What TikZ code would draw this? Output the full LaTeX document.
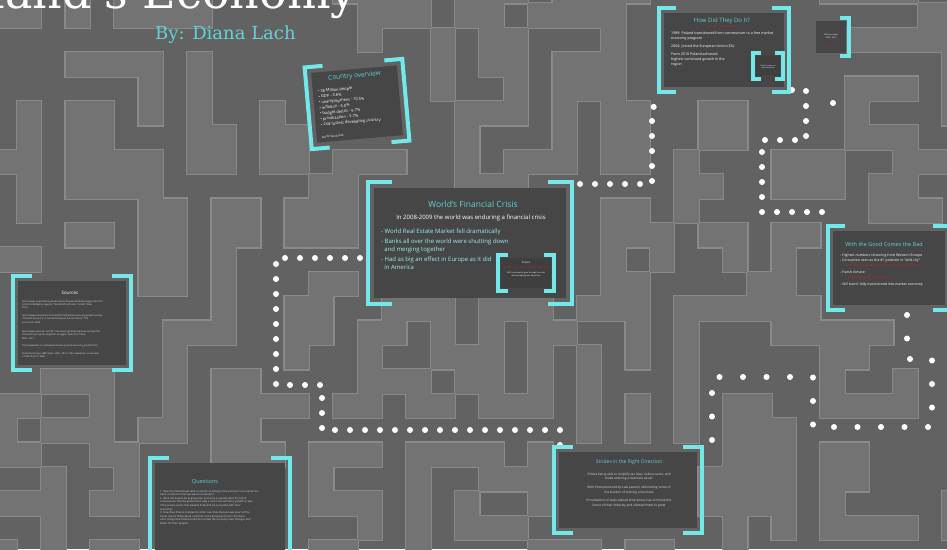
\documentclass[tikz,border=0pt]{standalone}
\usepackage{fontspec}
\setmainfont{Open Sans}
\newfontfamily\serifttl{DejaVu Serif}
\usetikzlibrary{calc}
\definecolor{corr}{HTML}{626262}
\definecolor{blk}{HTML}{737373}
\definecolor{edgec}{HTML}{898989}
\definecolor{panelc}{HTML}{464646}
\definecolor{cyb}{HTML}{74E7E9}
\definecolor{cyt}{HTML}{62D2D6}
\definecolor{redt}{HTML}{C0282A}
\newcommand\fs[2]{\fontsize{#1}{#2}\selectfont}
\newcommand\mz[1]{%
 \foreach \a/\b/\c/\d in {#1}{\draw[edgec, line width=2.4pt] ({16.8+24.35*\a},{76.5+24.4*\b}) rectangle ({16.8+24.35*(\c+1)},{76.5+24.4*(\d+1)});}
 \foreach \a/\b/\c/\d in {#1}{\fill[blk] ({16.8+24.35*\a},{76.5+24.4*\b}) rectangle ({16.8+24.35*(\c+1)},{76.5+24.4*(\d+1)});}}
\newcommand\brackets[3]{%
 \draw[brk] ($(#1.north west)+(#3,-#2)$) -- ($(#1.north west)+(-#2,-#2)$) -- ($(#1.south west)+(-#2,#2)$) -- ($(#1.south west)+(#3,#2)$);
 \draw[brk] ($(#1.north east)+(-#3,-#2)$) -- ($(#1.north east)+(#2,-#2)$) -- ($(#1.south east)+(#2,#2)$) -- ($(#1.south east)+(-#3,#2)$);}
\tikzset{
 panel/.style={fill=panelc, inner sep=0pt},
 brk/.style={draw=cyb, line width=4pt},
 dots/.style={draw=white, line width=6pt, line cap=round, dash pattern=on 0pt off 15pt},
 ttl/.style={text=cyt, font=\fs{7.5}{9}},
 body/.style={text=white, font=\fs{4}{5.5}, align=left, inner sep=0pt},
}
\begin{document}
\begin{tikzpicture}[x=1pt,y=-1pt]
\useasboundingbox (0,0) rectangle (947,549);
\clip (0,0) rectangle (947,549);
\fill[corr] (0,0) rectangle (947,549);
% maze blocks (cell ranges i0/j0/i1/j1)
\mz{-1/-4/0/-4, 2/-4/2/-4, 4/-4/7/-4, 13/-4/16/-4, 18/-4/20/-4, 22/-4/25/-4, 33/-4/36/-4,
 -1/-3/0/-3, 2/-3/2/-3, 4/-3/7/-3, 14/-3/16/-3, 18/-3/19/-3, 21/-3/24/-3, 37/-3/38/-3,
 14/-2/14/-2, 17/-2/17/-2, 19/-2/20/-2, 24/-2/24/-2, 34/-2/38/-2,
 2/-1/5/-1, 7/-1/7/-1, 17/-1/17/-1, 19/-1/20/-1, 22/-1/24/-1, 38/-1/38/-1,
 5/0/5/0, 7/0/7/0, 17/0/17/0, 20/0/20/0, 22/0/24/0, 34/0/36/0, 38/0/38/0,
 0/1/0/1, 2/1/3/1, 5/1/5/1, 7/1/7/1, 10/1/10/1, 18/1/20/1, 22/1/22/1, 24/1/25/1, 28/1/29/1, 34/1/34/1, 38/1/38/1,
 0/2/0/2, 2/2/3/2, 7/2/8/2, 10/2/11/2, 18/2/18/2, 22/2/22/2, 24/2/25/2, 28/2/29/2, 34/2/36/2,
 -1/3/0/3, 2/3/5/3, 7/3/8/3, 10/3/11/3, 13/3/15/3, 18/3/18/3, 20/3/22/3, 24/3/25/3, 27/3/27/3, 31/3/33/3, 36/3/38/3,
 0/4/0/4, 2/4/5/4, 12/4/13/4, 18/4/20/4, 27/4/28/4, 31/4/33/4, 35/4/36/4,
 0/5/0/5, 5/5/6/5, 8/5/9/5, 11/5/13/5, 24/5/25/5, 27/5/27/5, 35/5/37/5,
 2/6/3/6, 5/6/6/6, 8/6/9/6, 11/6/13/6, 24/6/26/6, 28/6/29/6, 31/6/32/6,
 -1/7/0/7, 5/7/6/7, 8/7/8/7, 24/7/24/7, 26/7/26/7, 29/7/29/7, 31/7/31/7,
 5/8/6/8, 8/8/8/8, 12/8/13/8, 24/8/25/8, 30/8/31/8,
 8/9/8/9, 11/9/12/9, 15/9/17/9, 19/9/21/9, 23/9/25/9, 27/9/32/9,
 6/10/8/10, 11/10/12/10, 14/10/15/10, 17/10/17/10, 19/10/19/10, 21/10/22/10, 25/10/25/10, 27/10/27/10, 31/10/35/10,
 6/11/6/11, 11/11/11/11, 14/11/14/11, 17/11/19/11, 21/11/21/11, 23/11/23/11, 25/11/25/11, 27/11/27/11, 33/11/34/11,
 1/12/3/12, 6/12/6/12, 8/12/9/12, 14/12/16/12, 18/12/19/12, 21/12/21/12, 23/12/23/12, 27/12/27/12, 33/12/33/12, 36/12/36/12,
 -1/13/0/13, 3/13/3/13, 6/13/6/13, 8/13/11/13, 13/13/14/13, 16/13/17/13, 19/13/21/13, 23/13/23/13, 25/13/25/13, 27/13/27/13, 29/13/30/13, 33/13/36/13,
 -1/14/-1/14, 1/14/3/14, 5/14/6/14, 8/14/9/14, 23/14/23/14, 25/14/25/14, 27/14/27/14, 29/14/31/14,
 -1/15/0/15, 3/15/4/15, 8/15/10/15, 12/15/14/15, 16/15/19/15, 21/15/21/15, 29/15/31/15, 33/15/34/15,
 1/16/1/16, 4/16/4/16, 12/16/12/16, 16/16/16/16, 19/16/21/16, 28/16/31/16, 33/16/34/16,
 -1/17/1/17, 3/17/4/17, 12/17/14/17, 16/17/16/17, 18/17/18/17, 21/17/21/17, 28/17/31/17, 33/17/33/17, 38/17/38/17,
 1/18/1/18, 14/18/14/18, 16/18/16/18, 18/18/20/18, 29/18/29/18, 31/18/31/18, 33/18/36/18, 38/18/38/18,
 -1/19/-1/19, 1/19/1/19, 3/19/4/19, 12/19/13/19, 16/19/16/19, 21/19/23/19, 25/19/26/19, 29/19/29/19}
% title
\node[anchor=base east, text=white, font=\serifttl\fs{46}{50}, inner sep=0pt] (title) at (357,8) {Poland's Economy};
\node[anchor=west, text=cyt, font=\serifttl\fs{18}{20}, inner sep=0pt] (by) at (155,35) {By: Diana Lach};
% dotted paths
\coordinate (p1a) at (580,184); \coordinate (p1b) at (652,184); \coordinate (p1c) at (652,108); \coordinate (p1d) at (664,100);
\draw[dots] (p1a) -- (p1b) -- (p1c) -- (p1d);
\coordinate (p3a) at (907,315); \coordinate (p3b) at (907,359); \coordinate (p3c) at (932,359); \coordinate (p3d) at (932,427);
\coordinate (p3e) at (813,427); \coordinate (p3f) at (813,377); \coordinate (p3g) at (712,377); \coordinate (p3h) at (712,448);
\draw[dots, dash pattern=on 0pt off 23.5pt] (p3a) -- (p3b) -- (p3c) -- (p3d) -- (p3e) -- (p3f) -- (p3g) -- (p3h);
\coordinate (p4a) at (360,258); \coordinate (p4b) at (276,258); \coordinate (p4c) at (276,385); \coordinate (p4d) at (322,385);
\coordinate (p4e) at (322,430); \coordinate (p4f) at (560,430); \coordinate (p4g) at (560,445);
\draw[dots] (p4a) -- (p4b) -- (p4c) -- (p4d) -- (p4e) -- (p4f) -- (p4g);
\coordinate (p2a) at (792,90); \coordinate (p2b) at (806,90); \coordinate (p2c) at (806,140); \coordinate (p2d) at (762,140);
\coordinate (p2e) at (762,212); \coordinate (p2f) at (836,212);
\draw[dots] (p2a) -- (p2b) -- (p2c) -- (p2d) -- (p2e) -- (p2f);
\coordinate (p2x) at (833,103);
\fill[white] (p2x) circle (3pt);
% Country overview (rotated)
\begin{scope}[shift={(357,104)}, rotate=5, transform shape]
\node[panel, minimum width=86pt, minimum height=70pt] (co) at (0,0) {};
\draw[brk] (-31,-41) -- (-49,-41) -- (-49,41) -- (-31,41);
\draw[brk] (31,-41) -- (49,-41) -- (49,41) -- (31,41);
\node[ttl, font=\fs{6.5}{8}] (cot) at (0,-28) {Country overview};
\node[body, anchor=north west, font=\fs{4}{5.6}] (cob) at (-38,-18) {• 38 Million people\\ • GDP - 3.8\%\\ • unemployment - 10.5\%\\ • inflation - 4.0\%\\ • budget deficit - 5.7\%\\ • privatization - 5.7\%\\ • 2nd fastest developing country};
\node[body, anchor=west, font=\fs{3}{4}] (cos) at (-38,30) {world fact book};
\end{scope}
% Financial crisis
\node[panel, minimum width=192pt, minimum height=110pt] (fc) at (470,243) {};
\brackets{fc}{6}{18}
\node[ttl, font=\fs{8.5}{10}] (fct) at (473,204) {World's Financial Crisis};
\node[body, font=\fs{6}{7}] (fci) at (471,218) {In 2008-2009 the world was enduring a financial crisis};
\node[body, anchor=north west, text=cyb!70!white, font=\fs{6}{8.5}] (fcb) at (381,229) {- World Real Estate Market fell dramatically\\[1pt] - Banks all over the world were shutting down\\ \ \ and merging together\\[1pt] - Had as big an effect in Europe as it did\\ \ \ in America};
\node[panel, fill=panelc!90!black, minimum width=50pt, minimum height=30pt] (fcs) at (526,273) {};
\brackets{fcs}{3}{7}
\node[body, font=\fs{2.5}{3}] at (526,263) {Poland};
\node[body, text=redt, font=\fs{2.5}{3}] at (526,268) {was the only country to avoid recession};
\node[body, font=\fs{2}{3}, align=center] at (526,274) {GDP continued to grow through the crisis\\ and unemployment stayed low};
% How did they do it
\node[panel, minimum width=120pt, minimum height=74pt] (hd) at (724,50) {};
\brackets{hd}{5}{12}
\node[ttl, font=\fs{6}{7}] (hdt) at (722,21) {How Did They Do It?};
\node[body, text=redt, font=\fs{3}{4}] at (722,27) {(economic reforms)};
\node[body, anchor=north west, font=\fs{3.6}{5}] (hdb) at (671,32) {1989: Poland transitioned from communism to a free market\\ economy program\\[3pt] 2004: Joined the European Union (EU)\\[3pt] From 2010 Poland achieved\\ highest continued growth in the\\ region};
\node[panel, fill=panelc!90!black, minimum width=24pt, minimum height=20pt] (hds) at (768,66) {};
\brackets{hds}{3}{5}
\node[body, text=redt, font=\fs{2}{3}] at (768,60) {Fun Fact};
\node[body, font=\fs{1.8}{2.5}, align=center] at (768,67) {only EU country to\\ avoid recession};
% small box top right
\node[panel, minimum width=30pt, minimum height=32pt] (sm) at (831,37) {};
\draw[brk] ($(sm.north east)+(-6,-3)$) -- ($(sm.north east)+(3,-3)$) -- ($(sm.south east)+(3,3)$) -- ($(sm.south east)+(-6,3)$);
\node[body, text=redt, font=\fs{2}{3}] at (831,47) {growth rate};
\node[body, font=\fs{2}{3}, align=center] at (831,36) {GDP per capita\\ 2004 - 2012};
% With the good comes the bad
\node[panel, minimum width=112pt, minimum height=74pt] (gb) at (889,268) {};
\brackets{gb}{5}{12}
\node[ttl, font=\fs{5.5}{7}] (gbt) at (884,244) {With the Good Comes the Bad};
\node[body, anchor=north west, font=\fs{3.5}{5}] (gbb) at (840,254) {- Highest numbers returning from Western Europe\\ - Corruption seen as the \#1 problem in "wild city"\\ \textcolor{redt}{\ \ \ \ \ \ \ Inefficient use of public funds and resources}\\[2pt] - Harsh climate\\ \textcolor{redt}{\ \ \ \ \ \ \ \ \ High taxes for businesses}\\[2pt] - Still hasn't fully transitioned into market economy};
% Sources
\node[panel, minimum width=108pt, minimum height=84pt] (src) at (72,323) {};
\brackets{src}{5}{14}
\node[body, font=\fs{4.5}{5}] (srct) at (70,293) {Sources};
\node[body, anchor=north west, font=\fs{2.4}{3.4}, text=white!85!black] (srcb) at (22,300) {http://www.cia.gov/library/publications/the-world-factbook/geos/pl.html\\ Central Intelligence Agency. The World Factbook: Poland. Web.\\ 2013.\\[4pt] http://www.economist.com/node/2010/poland-economy-growth-europe\\ "Poland's Economy: A Central European Success Story." The\\ Economist. Web.\\[6pt] http://www.nytimes.com/2011/business/global/poland-economy.html\\ Poland thrives while neighbors struggle. New York Times.\\ Web. 2011.\\[4pt] http://www.bbc.co.uk/news/business-poland-economy-growth.html\\[4pt] Poland economy. BBC News. Web. 2012. http://www.bbc.co.uk/news\\ 12 March 2013. Web.};
% Questions
\node[panel, minimum width=130pt, minimum height=90pt] (qs) at (220,508) {};
\brackets{qs}{5}{14}
\node[ttl, font=\fs{5.5}{7}] (qst) at (205,482) {Questions};
\node[body, anchor=north west, font=\fs{2.6}{3.6}, text=white!85!black] (qsb) at (160,490) {1. How has Poland been able to remain so strong in the economic crisis when the\\ other countries in Europe were in recession?\\ 2. What did Poland do to grow their economy so quickly after the fall of\\ communism? Did the government play a role in the economic growth or was\\ it the private sector that allowed Poland to be successful with their\\ economy? \\ 3. How does Poland compare to other countries that also were part of the\\ Soviet Union? What about countries in the European Union? Are there\\ other things that Poland could do to make the economy even stronger and\\ better for their people?};
% Strides
\node[panel, minimum width=138pt, minimum height=76pt] (st) at (628,490) {};
\brackets{st}{5}{14}
\node[ttl, font=\fs{5}{6}] (stt) at (629,462) {Strides in the Right Direction};
\node[body, align=center, font=\fs{3.2}{4.6}, text=white!85!black] (stb) at (629,490) {Polska being able to simplify tax laws, reduce taxes, and\\ make entering a business easier\\[4pt] With Entrepreneurship Law passed, eliminating some of\\ the burden of starting a business\\[4pt] Privatization of state-owned enterprises has continued to\\ boost of their industry and allowed them to grow};
\end{tikzpicture}
\end{document}
